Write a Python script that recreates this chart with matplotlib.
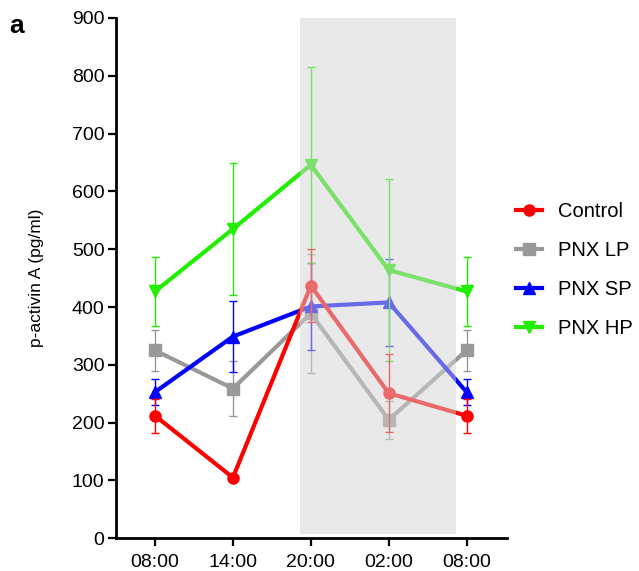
import matplotlib
matplotlib.use("Agg")
import matplotlib.pyplot as plt
import numpy as np

plt.rcParams['font.family'] = ['Liberation Sans', 'DejaVu Sans']

times = ["08:00", "14:00", "20:00", "02:00", "08:00"]
control = [212, 105, 437, 251, 212]
control_err = [29, 4, 63, 67, 29]
pnx_lp = [325, 259, 389, 205, 325]
pnx_lp_err = [35, 47, 103, 33, 35]
pnx_sp = [253, 349, 401, 408, 253]
pnx_sp_err = [22, 61, 75, 75, 22]
pnx_hp = [427, 535, 646, 464, 427]
pnx_hp_err = [59, 115, 170, 157, 59]

series = [
    ("PNX LP", pnx_lp, pnx_lp_err, "#999999", "s", 2),
    ("PNX SP", pnx_sp, pnx_sp_err, "#0000FF", "^", 3),
    ("PNX HP", pnx_hp, pnx_hp_err, "#22EE00", "v", 4),
    ("Control", control, control_err, "#FF0000", "o", 5),
]
legend_order = ["Control", "PNX LP", "PNX SP", "PNX HP"]

fig = plt.figure(figsize=(6.39, 5.71), dpi=100)
ax = fig.add_axes([115.7/639, 1-538.3/571, (506.7-115.7)/639, (538.3-18)/571])

x = np.arange(len(times))
handles = {}
for name, vals, errs, col, mk, z in series:
    ax.errorbar(x, vals, yerr=errs, color=col, lw=0, elinewidth=1.0,
                capsize=3, capthick=1.0, zorder=z)
    h, = ax.plot(x, vals, color=col, lw=3, marker=mk, markersize=8,
                 zorder=z + 0.5, label=name)
    handles[name] = h

# shaded dark phase drawn over the data
ax.axvspan(1.857, 3.864, ymin=0.008, ymax=1.0, facecolor="#D4D4D4",
           alpha=0.5, lw=0, zorder=10)

ax.set_xlim(-0.505, 4.515)
ax.set_ylim(0, 900)
ax.set_xticks(x)
ax.set_xticklabels(times)
ax.set_yticks(np.arange(0, 901, 100))
for s in ["top", "right"]:
    ax.spines[s].set_visible(False)
for s in ["left", "bottom"]:
    ax.spines[s].set_linewidth(2)
ax.tick_params(axis="both", width=1.6, length=6, labelsize=14, direction="out")
ax.tick_params(axis="y", pad=2)
ax.tick_params(axis="x", pad=5)
ax.set_ylabel("p-activin A (pg/ml)", fontsize=12.5, labelpad=20)

fig.legend([handles[n] for n in legend_order], legend_order,
           loc="center left", bbox_to_anchor=(0.779, 0.527), frameon=False,
           fontsize=14.5, handlelength=1.3, labelspacing=1.0, handletextpad=0.8)

fig.text(0.015, 0.955, "a", fontsize=19, fontweight="bold", va="center")

fig.savefig("out.png", dpi=100)
